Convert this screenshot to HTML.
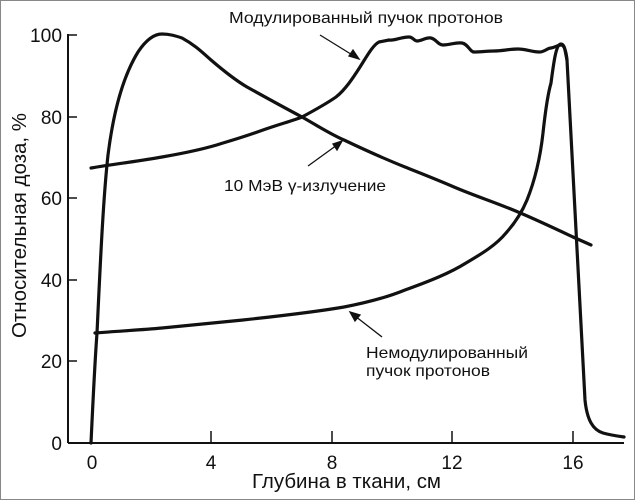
<!DOCTYPE html>
<html><head><meta charset="utf-8"><style>
html,body{margin:0;padding:0;background:#fff}
svg{display:block}
text{font-family:"Liberation Sans",sans-serif;fill:#111}
</style></head><body>
<svg width="635" height="500" viewBox="0 0 635 500" xmlns="http://www.w3.org/2000/svg">
<rect x="0.5" y="0.5" width="634" height="499" fill="#fff" stroke="#888" stroke-width="1"/>
<g stroke="#111" stroke-width="2" fill="none">
<line x1="68" y1="34" x2="68" y2="443"/>
<line x1="68" y1="443" x2="624" y2="443"/>
</g>
<g stroke="#111" stroke-width="1.5">
<line x1="68" y1="35" x2="77" y2="35"/><line x1="68" y1="117" x2="77" y2="117"/>
<line x1="68" y1="198" x2="77" y2="198"/><line x1="68" y1="280" x2="77" y2="280"/>
<line x1="68" y1="361" x2="77" y2="361"/>
<line x1="211" y1="443" x2="211" y2="431"/><line x1="332" y1="443" x2="332" y2="431"/>
<line x1="452" y1="443" x2="452" y2="431"/><line x1="573" y1="443" x2="573" y2="431"/>
</g>
<g font-size="19" text-anchor="end">
<text x="62" y="42" textLength="32" lengthAdjust="spacingAndGlyphs">100</text><text x="62" y="124">80</text><text x="62" y="205">60</text>
<text x="62" y="287">40</text><text x="62" y="368">20</text><text x="62" y="450">0</text>
</g>
<g font-size="19" text-anchor="middle">
<text x="92" y="469">0</text><text x="211" y="469">4</text><text x="332" y="469">8</text>
<text x="452" y="469">12</text><text x="573" y="469">16</text>
</g>
<text x="252" y="488" font-size="20" textLength="189" lengthAdjust="spacingAndGlyphs">Глубина в ткани, см</text>
<text transform="translate(26,338) rotate(-90)" font-size="20" textLength="225" lengthAdjust="spacingAndGlyphs">Относительная доза, %</text>
<g font-size="16">
<text x="229" y="23" textLength="274" lengthAdjust="spacingAndGlyphs">Модулированный пучок протонов</text>
<text x="224" y="191" textLength="162" lengthAdjust="spacingAndGlyphs">10 МэВ γ-излучение</text>
<text x="366" y="358" textLength="162" lengthAdjust="spacingAndGlyphs">Немодулированный</text>
<text x="366" y="376" textLength="124" lengthAdjust="spacingAndGlyphs">пучок протонов</text>
</g>
<g stroke="#111" stroke-width="3.2" fill="none" stroke-linejoin="round" stroke-linecap="round">
<path d="M91,443 C93,400 95,360 97,333 C100,270 103,200 108,155 C113,115 122,78 138,52 C146,40 154,34 162,34 C170,34 176,36 182,38 C195,45 203,53 211,60 C225,72 235,80 247,87 C265,97 285,108 302,117 C318,126 330,134 344,140 C365,150 385,159 405,167 C420,173 438,180 454,187 C475,196 497,203 518,212 C537,220 556,229 573,237 L591,245"/>
<path d="M91,168 C115,164 140,161 162,157 C185,153 205,149 223,143 C240,138 252,134 263,130 C280,124 292,121 302,117 C315,110 326,104 336,97 C345,90 353,78 360,67 C367,56 373,45 379,42 L389,40 C395,41 400,37 409,37 C413,37 414,41 417,41 C422,41 426,37 431,38 C436,39 438,45 443,45 C450,45 456,42 462,43 C468,44 470,52 474,52 C480,52 488,51 494,51 C502,51 510,49 518,49 C526,49 532,52 539,52 C545,52 547,48 551,48 C556,47 558,45 561,45 C564,45 566,50 567,60 L585,400 C587,420 593,430 603,433 C610,435 617,436 624,437"/>
<path d="M95,333 C120,331 140,330 162,328 C190,325 215,323 243,320 C280,316 315,312 344,307 C370,302 388,297 405,290 C430,281 450,273 466,263 C483,253 496,245 506,233 C515,223 522,212 527,200 C535,180 540,160 543,133 C546,105 549,90 551,83 C554,60 556,48 559,45 C561,43 564,44 565,50 L567,60"/>
</g>
<g stroke="#111" stroke-width="1.3" fill="#111">
<line x1="320" y1="35" x2="354" y2="56"/><polygon points="359,59 349,56 353,50"/>
<line x1="308" y1="166" x2="337" y2="145"/><polygon points="342,141 337,150 333,144"/>
<line x1="382" y1="337" x2="355" y2="316"/><polygon points="350,312 360,315 355,321"/>
</g>
</svg>
</body></html>
